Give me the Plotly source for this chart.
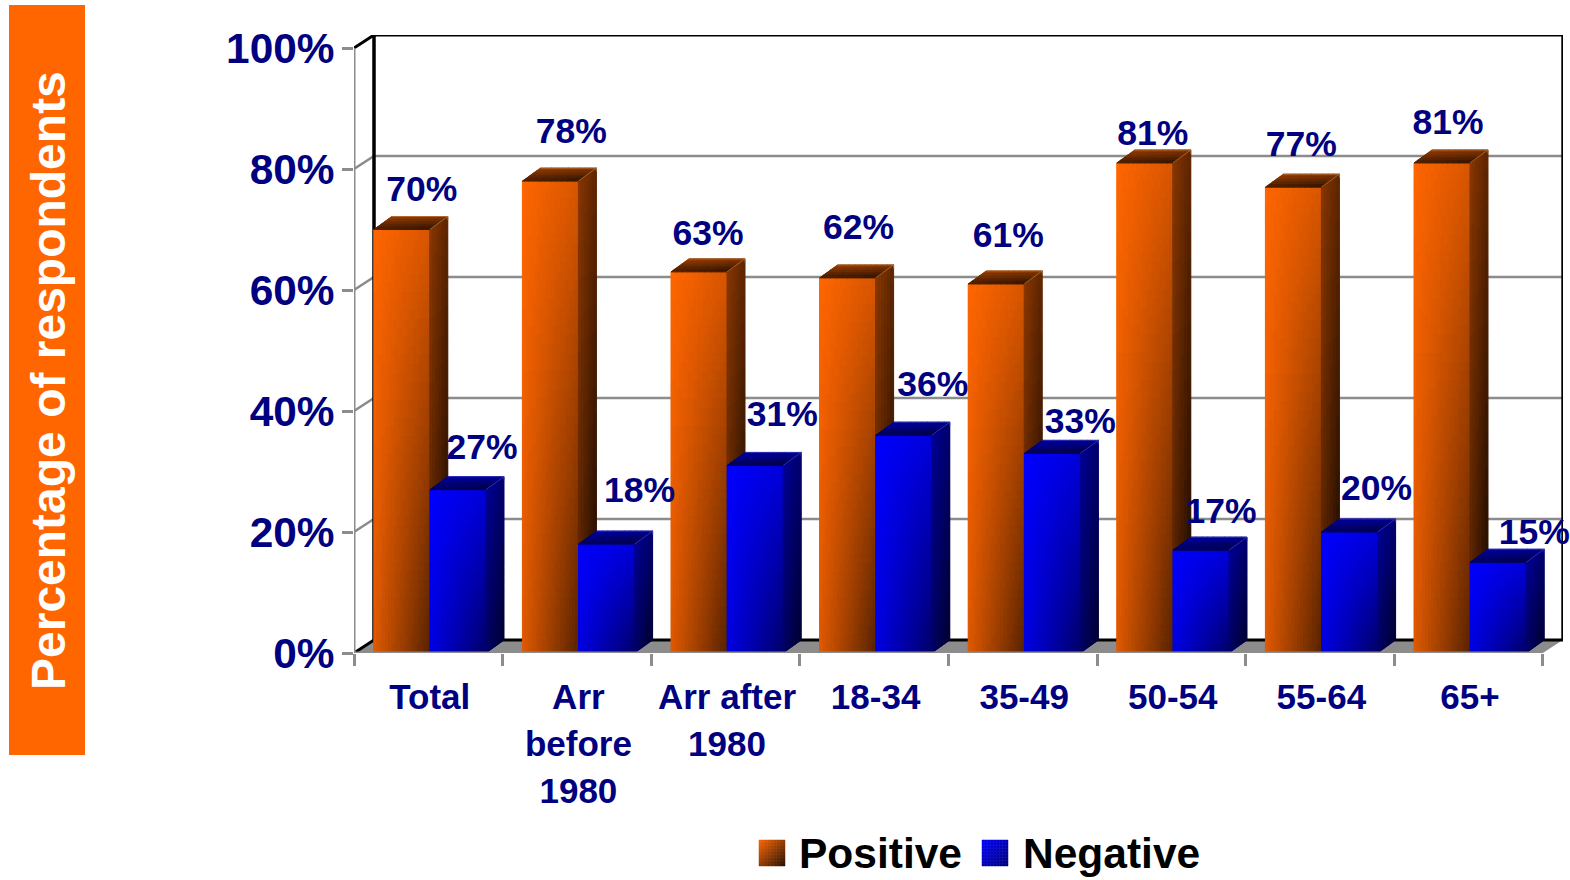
import plotly.graph_objects as go

categories = ["Total", "Arr<br>before<br>1980", "Arr after<br>1980", "18-34", "35-49", "50-54", "55-64", "65+"]
positive = [70, 78, 63, 62, 61, 81, 77, 81]
negative = [27, 18, 31, 36, 33, 17, 20, 15]
y_ticks = [0, 20, 40, 60, 80, 100]

# label nudges from the top-centre of each bar's front face, in pixels
pos_label_dx = [20, 21, 9, 11, 12, 8, 8, 6]
pos_label_dy = [-37, -47, -36, -48, -46, -27, -40, -38]
neg_label_dx = [24, 33, 27, 29, 28, 20, 27, 36]
neg_label_dy = [-40, -51, -48, -48, -29, -36, -41, -27]

# page geometry
W, H = 1570, 880
X0, Y0 = 354, 653           # front-axis origin in pixels
XR, YT = 1563, 35           # right and top of plot area
PX_X = 148.6                # pixels per category
PX_Y = 6.05                 # pixels per percent
DEPTH_WALL_X, DEPTH_WALL_Y = 20 / PX_X, 13 / PX_Y
DX, DY = 18 / PX_X, 13 / PX_Y
BAR_W = 56 / PX_X
OFF_POS, OFF_NEG = 19.8 / PX_X, 76 / PX_X
N_CAT = len(categories)
X_MAX = (XR - X0) / PX_X
Y_MAX = (Y0 - YT) / PX_Y
ORANGE = (255, 102, 0)
BLUE = (0, 0, 255)
NAVY = "#000080"
GREY = "#8c8c8c"
FONT = "Liberation Sans"
LEVELS = 64


def shade(rgb, t):
    t = min(1, max(0, t))
    return "rgb(%d,%d,%d)" % tuple(round(c * (1 - t)) for c in rgb)


def px(x):
    return (x - X0) / (XR - X0)


def py(y):
    return (Y0 - y) / (Y0 - YT)


def tick_text(label):
    # text at 35px while the taller base size sets the line spacing
    return "<br>".join("<span style='font-size:35px'>%s</span>" % part for part in label.split("<br>"))


fig = go.Figure()

# true bars, underneath their shaded faces
for name, vals, off, rgb in (("Positive", positive, OFF_POS, ORANGE), ("Negative", negative, OFF_NEG, BLUE)):
    fig.add_bar(x=[i + off + BAR_W / 2 for i in range(N_CAT)], y=vals, width=BAR_W, name=name,
                marker=dict(color=shade(rgb, 0.2), line_width=0), showlegend=False, hoverinfo="skip")


def line(xs, ys, color, width):
    fig.add_scatter(x=xs, y=ys, mode="lines", line=dict(color=color, width=width), cliponaxis=False,
                    showlegend=False, hoverinfo="skip")


# floor
fig.add_scatter(x=[0, N_CAT, N_CAT + DEPTH_WALL_X, DEPTH_WALL_X, 0], y=[0, 0, DEPTH_WALL_Y, DEPTH_WALL_Y, 0],
                mode="lines", fill="toself", fillcolor=GREY, line=dict(color=GREY, width=0),
                showlegend=False, hoverinfo="skip")
# wall gridlines and their diagonals
gx, gy = [], []
for t in y_ticks[1:-1]:
    gx += [0, DEPTH_WALL_X, N_CAT + DEPTH_WALL_X, None]
    gy += [t, t + DEPTH_WALL_Y, t + DEPTH_WALL_Y, None]
line(gx, gy, GREY, 2.5)
# black wall frame
line([0, DEPTH_WALL_X, DEPTH_WALL_X, None, 0, DEPTH_WALL_X, N_CAT + DEPTH_WALL_X, N_CAT + DEPTH_WALL_X,
      DEPTH_WALL_X, DEPTH_WALL_X],
     [100, 100 + DEPTH_WALL_Y, DEPTH_WALL_Y, None, 0, DEPTH_WALL_Y, DEPTH_WALL_Y, 100 + DEPTH_WALL_Y,
      100 + DEPTH_WALL_Y, DEPTH_WALL_Y], "#000000", 3)


def draw_series(vals, off, rgb, edge, tmax_scale):
    # solid backing for side and top faces so no seam lets the background through
    bx, by = [], []
    for i, v in enumerate(vals):
        x0 = i + off
        x1 = x0 + BAR_W
        bx += [x1, x1 + DX, x1 + DX, x0 + DX, x0, x1, x1, None]
        by += [0, DY, v + DY, v + DY, v, v, 0, None]
    back = shade(rgb, 0.6 * tmax_scale)
    fig.add_scatter(x=bx, y=by, mode="lines", fill="toself", fillcolor=back,
                    line=dict(color=back, width=0), showlegend=False, hoverinfo="skip")

    cells = {}

    def add(poly, t):
        level = round(min(1, max(0, t * tmax_scale)) * (LEVELS - 1))
        xs, ys = cells.setdefault(level, ([], []))
        for px_, py_ in poly + poly[:1]:
            xs.append(px_)
            ys.append(py_)
        xs.append(None)
        ys.append(None)

    ex, ey = [], []
    for i, v in enumerate(vals):
        x0 = i + off
        x1 = x0 + BAR_W
        nrow = max(6, round(v * PX_Y / 9))
        ncol = 19
        # front face
        for r in range(nrow):
            yb, yt = v * (1 - (r + 1) / nrow), v * (1 - r / nrow)
            vv = (r + 0.5) / nrow
            for c in range(ncol):
                u = (c + 0.5) / ncol
                xa, xb = x0 + BAR_W * c / ncol, x0 + BAR_W * (c + 1) / ncol
                add([(xa, yb), (xb, yb), (xb, yt), (xa, yt)], 0.12 * vv + u * (0.15 + 0.38 * vv))
        # side face
        nc = 6
        for r in range(nrow):
            yb, yt = v * (1 - (r + 1) / nrow), v * (1 - r / nrow)
            vv = (r + 0.5) / nrow
            for c in range(nc):
                s0, s1 = c / nc, (c + 1) / nc
                s = (s0 + s1) / 2
                add([(x1 + DX * s0, yb + DY * s0), (x1 + DX * s1, yb + DY * s1),
                     (x1 + DX * s1, yt + DY * s1), (x1 + DX * s0, yt + DY * s0)],
                    0.46 + 0.17 * s + 0.2 * vv + 0.07 * s * vv)
        # top face
        nt = 5
        for r in range(nt):
            f0, f1 = r / nt, (r + 1) / nt      # 0 at front edge, 1 at back edge
            f = (f0 + f1) / 2
            for c in range(10):
                u0, u1 = c / 10, (c + 1) / 10
                u = (u0 + u1) / 2
                add([(x0 + BAR_W * u0 + DX * f0, v + DY * f0), (x0 + BAR_W * u1 + DX * f0, v + DY * f0),
                     (x0 + BAR_W * u1 + DX * f1, v + DY * f1), (x0 + BAR_W * u0 + DX * f1, v + DY * f1)],
                    0.72 - 0.34 * f + 0.08 * u)
        ex += [x0 + DX, x1 + DX, x1 + DX, None, x1, x1 + DX, None]
        ey += [v + DY, v + DY, v + DY - 0.6, None, v, v + DY, None]
    for level in sorted(cells):
        xs, ys = cells[level]
        col = shade(rgb, level / (LEVELS - 1))
        fig.add_scatter(x=xs, y=ys, mode="lines", fill="toself", fillcolor=col,
                        line=dict(color=col, width=1.0), showlegend=False, hoverinfo="skip")
    line(ex, ey, edge, 0.8)


draw_series(positive, OFF_POS, ORANGE, "#b5763f", 1.0)
draw_series(negative, OFF_NEG, BLUE, "#3a3ab8", 0.9)

# front axes, drawn over the bars
line([0, 0, None, 0, N_CAT], [100, 0, None, 0, 0], GREY, 3)


def labels(vals, off, dxs, dys):
    fig.add_scatter(x=[i + off + BAR_W / 2 + dx / PX_X for i, dx in enumerate(dxs)],
                    y=[v - dy / PX_Y for v, dy in zip(vals, dys)],
                    text=["%d%%" % v for v in vals], mode="text", textposition="middle center",
                    textfont=dict(family=FONT, size=35.5, color=NAVY, weight=700),
                    cliponaxis=False, showlegend=False, hoverinfo="skip")


labels(positive, OFF_POS, pos_label_dx, pos_label_dy)
labels(negative, OFF_NEG, neg_label_dx, neg_label_dy)

shapes = [dict(type="rect", xref="paper", yref="paper", x0=px(9), x1=px(85), y0=py(755), y1=py(5),
               fillcolor="#ff6600", line_width=0, layer="below")]
# legend swatches
for left, top, rgb, k in ((759, 840, ORANGE, 0.8), (982, 840, BLUE, 0.5)):
    n = 9
    size = 26
    for a in range(n):
        for b in range(n):
            t = k * ((a + b + 1) / (2 * n - 1))
            shapes.append(dict(type="rect", xref="paper", yref="paper",
                               x0=px(left + size * a / n), x1=px(left + size * (a + 1) / n),
                               y0=py(top + size * (b + 1) / n), y1=py(top + size * b / n),
                               fillcolor=shade(rgb, t), line=dict(color=shade(rgb, t), width=0.5)))

annotations = [
    dict(text="Percentage of respondents", xref="paper", yref="paper", x=px(48), y=py(381), textangle=-90,
         showarrow=False, xanchor="center", yanchor="middle",
         font=dict(family=FONT, size=48, color="#ffffff", weight=700)),
    dict(text="Positive", xref="paper", yref="paper", x=px(797), y=py(853), showarrow=False,
         xanchor="left", yanchor="middle", font=dict(family=FONT, size=42.5, color="#000000", weight=700)),
    dict(text="Negative", xref="paper", yref="paper", x=px(1021), y=py(853), showarrow=False,
         xanchor="left", yanchor="middle", font=dict(family=FONT, size=42.5, color="#000000", weight=700)),
]

fig.update_layout(
    width=W, height=H, autosize=False, barmode="overlay", showlegend=False,
    margin=dict(l=X0, r=W - XR, t=YT, b=H - Y0, pad=0),
    paper_bgcolor="#ffffff", plot_bgcolor="#ffffff",
    shapes=shapes, annotations=annotations,
    xaxis=dict(range=[0, X_MAX], tickmode="array", tickvals=[i + 0.51 for i in range(N_CAT)],
               ticktext=[tick_text(c) for c in categories], ticks="", ticklabelstandoff=18, showgrid=False,
               zeroline=False, showline=False, tickangle=0,
               tickfont=dict(family=FONT, size=36.5, color=NAVY, weight=700),
               minor=dict(tickmode="array", tickvals=list(range(N_CAT + 1)), ticks="outside",
                          ticklen=12, tickwidth=2.5, tickcolor=GREY, showgrid=False)),
    yaxis=dict(range=[0, Y_MAX], tickmode="array", tickvals=y_ticks, ticktext=["%d%%" % t for t in y_ticks],
               ticks="outside", ticklen=11, tickwidth=2.5, tickcolor=GREY, ticklabelstandoff=-1,
               showgrid=False, zeroline=False, showline=False,
               tickfont=dict(family=FONT, size=42.4, color=NAVY, weight=700)),
)

fig.write_html("out.html", config={"displayModeBar": False},
               post_script="document.body.style.margin='0';document.body.style.overflow='hidden';")
